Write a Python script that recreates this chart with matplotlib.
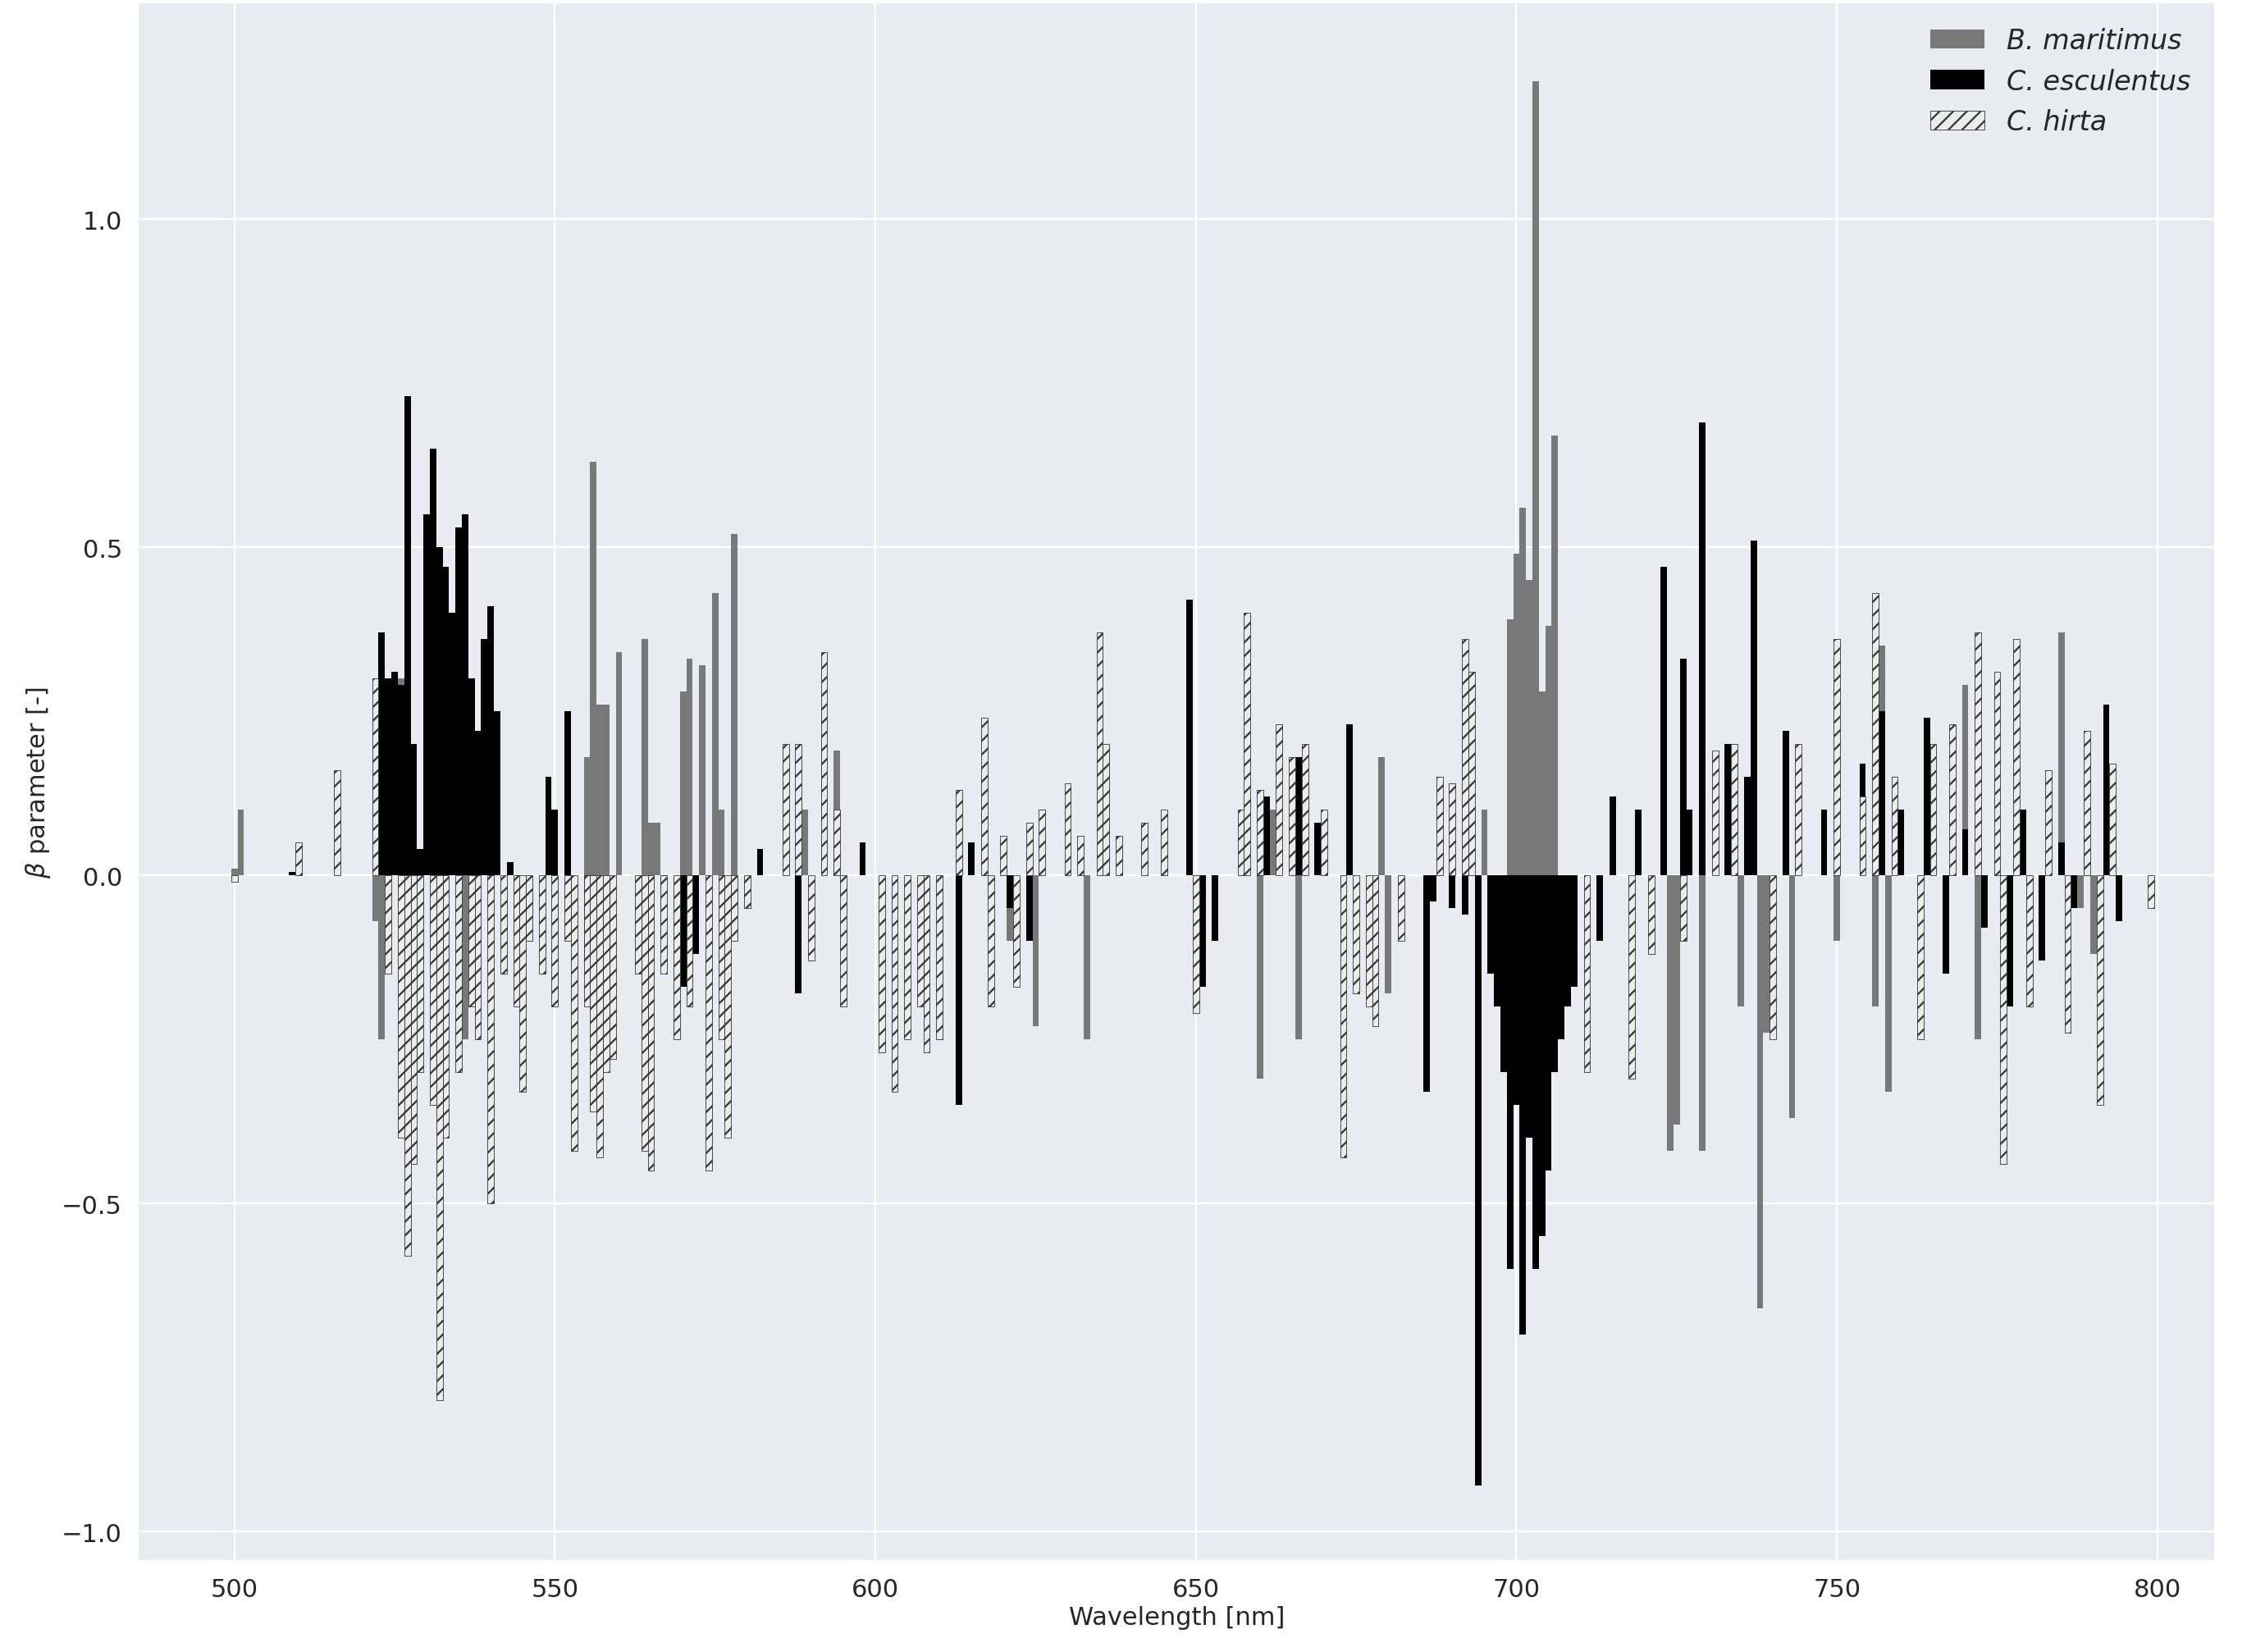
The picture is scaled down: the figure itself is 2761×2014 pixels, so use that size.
import matplotlib
matplotlib.use("Agg")
import matplotlib.pyplot as plt
import seaborn as sns

# B. maritimus
wl_bm = [500, 501, 522, 523, 526, 536, 555, 556, 557, 558, 560, 564, 565, 566, 570, 571,
         573, 575, 576, 578, 589, 592, 594, 621, 625, 633, 650, 660, 662, 666, 673, 679,
         680, 695, 699, 700, 701, 702, 703, 704, 705, 706, 724, 725, 729, 735, 738, 739,
         743, 750, 756, 757, 758, 770, 772, 780, 785, 788, 790]
val_bm = [0.01, 0.1, -0.07, -0.25, 0.3, -0.25, 0.18, 0.63, 0.26, 0.26, 0.34, 0.36, 0.08, 0.08, 0.28, 0.33,
          0.32, 0.43, 0.1, 0.52, 0.1, 0.2, 0.19, -0.1, -0.23, -0.25, -0.1, -0.31, 0.1, -0.25, -0.13, 0.18,
          -0.18, 0.1, 0.39, 0.49, 0.56, 0.45, 1.21, 0.28, 0.38, 0.67, -0.42, -0.38, -0.42, -0.2, -0.66, -0.24,
          -0.37, -0.1, -0.2, 0.35, -0.33, 0.29, -0.25, -0.1, 0.37, -0.05, -0.12]

# C. esculentus
wl_ce = [509, 523, 524, 525, 526, 527, 528, 529, 530, 531, 532, 533, 534, 535, 536, 537, 538, 539,
         540, 541, 543, 549, 550, 552, 555, 556, 567, 570, 572, 582, 588, 598, 613, 615, 621, 624,
         649, 651, 653, 661, 666, 669, 674, 686, 687, 690, 692, 694, 696, 697, 698, 699, 700, 701,
         702, 703, 704, 705, 706, 707, 708, 709, 713, 715, 719, 723, 726, 727, 729, 733, 736, 737,
         742, 744, 748, 754, 757, 760, 764, 767, 770, 773, 777, 779, 782, 785, 787, 789, 792, 794]
val_ce = [0.005, 0.37, 0.3, 0.31, 0.29, 0.73, 0.2, 0.04, 0.55, 0.65, 0.5, 0.47, 0.4, 0.53, 0.55, 0.3, 0.22, 0.36,
          0.41, 0.25, 0.02, 0.15, 0.1, 0.25, -0.13, -0.2, -0.1, -0.17, -0.12, 0.04, -0.18, 0.05, -0.35, 0.05, -0.05, -0.1,
          0.42, -0.17, -0.1, 0.12, 0.18, 0.08, 0.23, -0.33, -0.04, -0.05, -0.06, -0.93, -0.15, -0.2, -0.3, -0.6, -0.35, -0.7,
          -0.4, -0.6, -0.55, -0.45, -0.3, -0.25, -0.2, -0.17, -0.1, 0.12, 0.1, 0.47, 0.33, 0.1, 0.69, 0.2, 0.15, 0.51,
          0.22, 0.08, 0.1, 0.17, 0.25, 0.1, 0.24, -0.15, 0.07, -0.08, -0.2, 0.1, -0.13, 0.05, -0.05, 0.06, 0.26, -0.07]

# C. hirta
wl_ch = [500, 510, 516, 522, 524, 526, 527, 528, 529, 531, 532, 533, 535, 537, 538, 540, 542, 544,
         545, 546, 548, 550, 552, 553, 555, 556, 557, 558, 559, 563, 564, 565, 567, 569, 571, 574,
         576, 577, 578, 580, 586, 588, 590, 592, 594, 595, 601, 603, 605, 607, 608, 610, 613, 617,
         618, 620, 622, 624, 626, 630, 632, 635, 636, 638, 642, 645, 650, 657, 658, 660, 663, 665,
         667, 670, 673, 675, 677, 678, 682, 688, 690, 692, 693, 711, 718, 721, 726, 731, 734, 740,
         744, 750, 754, 756, 759, 763, 765, 768, 772, 775, 776, 778, 780, 783, 786, 789, 791, 793, 799]
val_ch = [-0.01, 0.05, 0.16, 0.3, -0.15, -0.4, -0.58, -0.44, -0.3, -0.35, -0.8, -0.4, -0.3, -0.2, -0.25, -0.5, -0.15, -0.2,
          -0.33, -0.1, -0.15, -0.2, -0.1, -0.42, -0.2, -0.36, -0.43, -0.3, -0.28, -0.15, -0.42, -0.45, -0.15, -0.25, -0.2, -0.45,
          -0.25, -0.4, -0.1, -0.05, 0.2, 0.2, -0.13, 0.34, 0.1, -0.2, -0.27, -0.33, -0.25, -0.2, -0.27, -0.25, 0.13, 0.24,
          -0.2, 0.06, -0.17, 0.08, 0.1, 0.14, 0.06, 0.37, 0.2, 0.06, 0.08, 0.1, -0.21, 0.1, 0.4, 0.13, 0.23, 0.18,
          0.2, 0.1, -0.43, -0.18, -0.2, -0.23, -0.1, 0.15, 0.14, 0.36, 0.31, -0.3, -0.31, -0.12, -0.1, 0.19, 0.2, -0.25,
          0.2, 0.36, 0.12, 0.43, 0.15, -0.25, 0.2, 0.23, 0.37, 0.31, -0.44, 0.36, -0.2, 0.16, -0.24, 0.22, -0.35, 0.17, -0.05]

sns.set_style("darkgrid")
plt.rcParams["hatch.linewidth"] = 0.8

fig, ax = plt.subplots(figsize=(13.805, 10.075), dpi=200)
fig.subplots_adjust(left=0.061, right=0.978, top=0.998, bottom=0.055)

ax.bar(wl_bm, val_bm, width=1.0, color="#787878", linewidth=0, label="B. maritimus")
ax.bar(wl_ce, val_ce, width=1.0, color="black", linewidth=0, label="C. esculentus")
ax.bar(wl_ch, val_ch, width=1.0, color="#ebebeb", edgecolor="#333333", linewidth=0.3,
       hatch="////", label="C. hirta")

ax.set_xlim(485, 809)
ax.set_ylim(-1.045, 1.33)
ax.set_xticks([500, 550, 600, 650, 700, 750, 800])
ax.set_yticks([-1.0, -0.5, 0.0, 0.5, 1.0])
ax.set_xlabel("Wavelength [nm]", fontsize=11, labelpad=2)
ax.set_ylabel(r"$\beta$ parameter [-]", fontsize=11)
ax.tick_params(labelsize=11)
leg = ax.legend(loc="upper right", fontsize=12, frameon=False)
for t in leg.get_texts():
    t.set_fontstyle("italic")

fig.savefig("out.png")
